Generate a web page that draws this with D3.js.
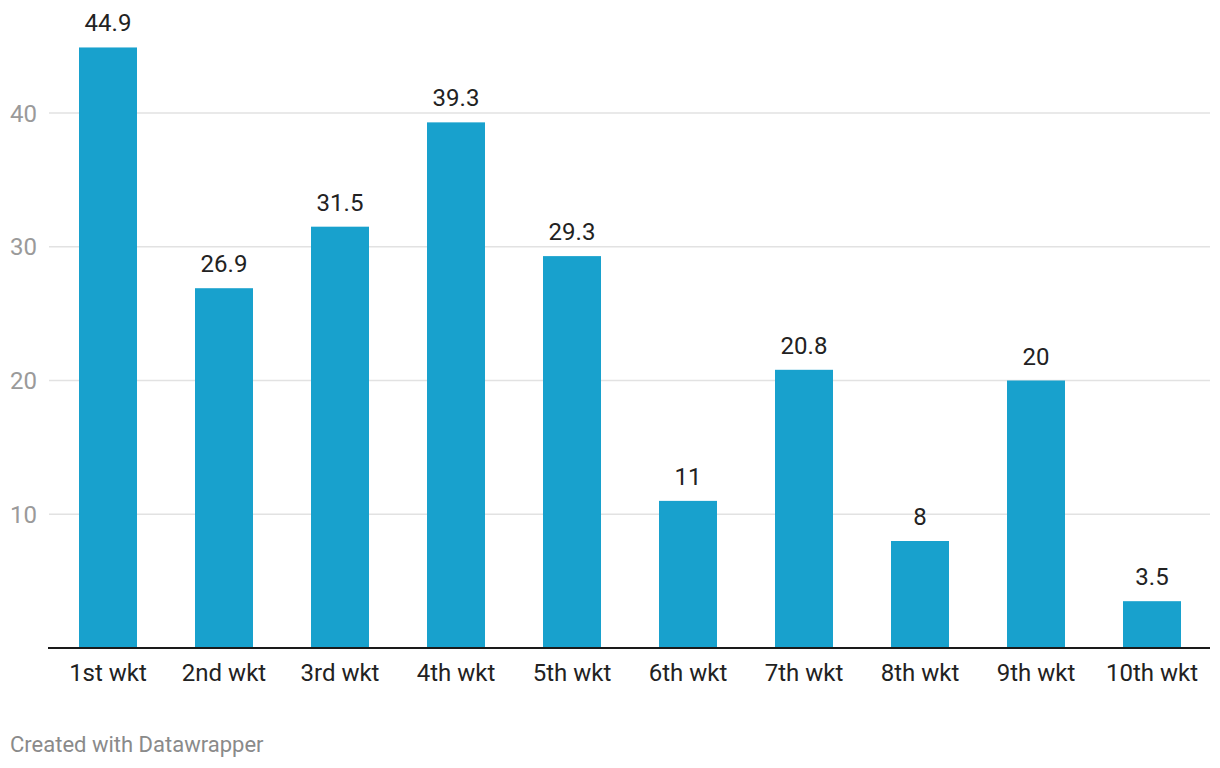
<!DOCTYPE html>
<html><head><meta charset="utf-8">
<script src="https://cdn.jsdelivr.net/npm/d3@7"></script>
<style>body{margin:0;background:#fff;font-family:Roboto,sans-serif}</style>
</head><body><svg id="c" width="1220" height="768"></svg>
<script>
const categories = ["1st wkt","2nd wkt","3rd wkt","4th wkt","5th wkt","6th wkt","7th wkt","8th wkt","9th wkt","10th wkt"];
const values = [44.9,26.9,31.5,39.3,29.3,11,20.8,8,20,3.5];
const yTicks = [10,20,30,40];

const svg = d3.select("#c");
const x = d3.scaleBand().domain(categories).range([50,1210]).paddingInner(0.5).paddingOuter(0.25);
const y = d3.scaleLinear().domain([0,40]).range([648,113]);

const grid = svg.append("g");
grid.selectAll("line").data(yTicks).join("line")
  .attr("x1",49).attr("x2",1210).attr("y1",d=>y(d)).attr("y2",d=>y(d))
  .attr("stroke","#e2e2e2").attr("stroke-width",1.5);
grid.selectAll("text").data(yTicks).join("text")
  .attr("x",10).attr("y",d=>y(d)+8.5).attr("fill","#9a9a9a")
  .attr("font-size",24).text(d=>d);

svg.append("g").selectAll("rect").data(values).join("rect")
  .attr("x",(d,i)=>x(categories[i])).attr("width",x.bandwidth())
  .attr("y",d=>y(d)).attr("height",d=>y(0)-y(d)).attr("fill","#18a1cd");

svg.append("g").selectAll("text").data(values).join("text")
  .attr("x",(d,i)=>x(categories[i])+x.bandwidth()/2).attr("y",d=>y(d)-16)
  .attr("text-anchor","middle").attr("font-size",24).attr("fill","#222")
  .text(d=>d);

svg.append("line").attr("x1",48).attr("x2",1210).attr("y1",648).attr("y2",648)
  .attr("stroke","#1a1a1a").attr("stroke-width",2);

svg.append("g").selectAll("text").data(categories).join("text")
  .attr("x",d=>x(d)+x.bandwidth()/2).attr("y",681)
  .attr("text-anchor","middle").attr("font-size",24).attr("fill","#222")
  .text(d=>d);

svg.append("text").attr("x",10).attr("y",752).attr("font-size",22).attr("fill","#8a8a8a")
  .text("Created with Datawrapper");
</script></body></html>
